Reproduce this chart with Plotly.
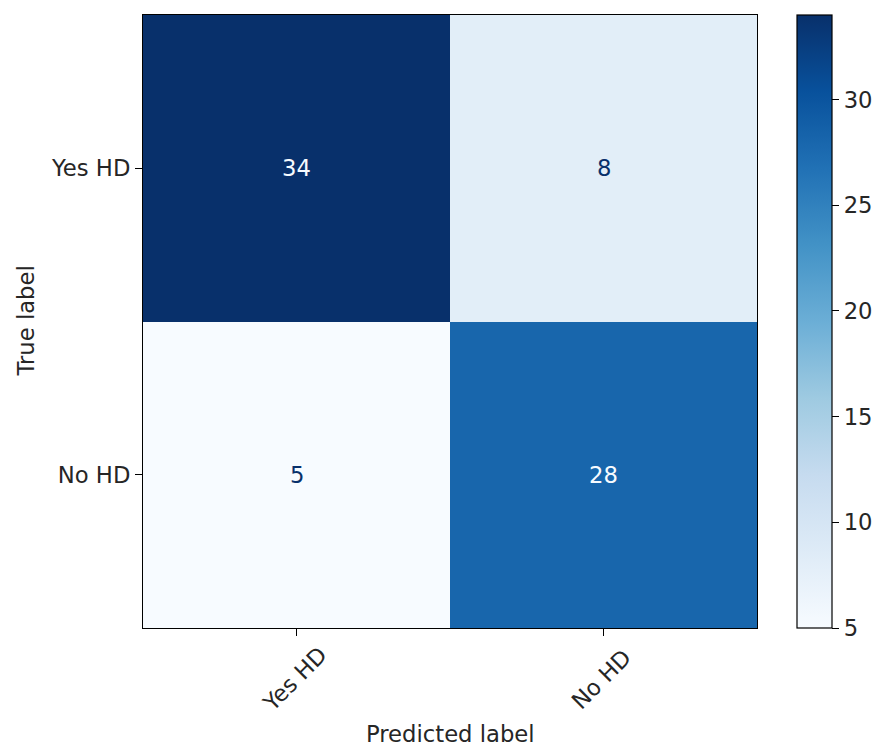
import plotly.graph_objects as go

# Confusion matrix data
labels = ["Yes HD", "No HD"]
counts = [[34, 8],
          [5, 28]]
cbar_ticks = [5, 10, 15, 20, 25, 30]

blues = [
    [0.000, "#f7fbff"], [0.125, "#deebf7"], [0.250, "#c6dbef"],
    [0.375, "#9ecae1"], [0.500, "#6baed6"], [0.625, "#4292c6"],
    [0.750, "#2171b5"], [0.875, "#08519c"], [1.000, "#08306b"],
]

FONT = "DejaVu Sans"
FS = 22.7
TXT = "#262626"

zmin = min(min(r) for r in counts)
zmax = max(max(r) for r in counts)
mid = (zmin + zmax) / 2

fig = go.Figure(go.Heatmap(
    z=counts, x=labels, y=labels,
    colorscale=blues, zmin=zmin, zmax=zmax,
    xgap=0, ygap=0, showscale=True,
    colorbar=dict(
        x=(797 - 143) / 614, xanchor="left", xref="paper",
        y=0.5, yanchor="middle", len=1.0, lenmode="fraction",
        thickness=35, thicknessmode="pixels",
        outlinewidth=1.2, outlinecolor="black",
        tickvals=cbar_ticks, ticks="outside", ticklen=7, tickwidth=1.2,
        tickcolor="black", tickfont=dict(family=FONT, size=FS, color=TXT),
        xpad=0, ypad=0,
    ),
    hoverinfo="skip",
))

# Cell count annotations
for i, row in enumerate(counts):
    for j, v in enumerate(row):
        fig.add_annotation(
            x=labels[j], y=labels[i], text=str(v), showarrow=False,
            font=dict(family=FONT, size=FS,
                      color="#f7fbff" if v > mid else "#08306b"),
        )

# Rotated x tick labels, centred under each tick
for lab in labels:
    fig.add_annotation(
        x=lab, y=-51 / 613, xref="x", yref="paper", text=lab,
        textangle=-45, showarrow=False, xanchor="center", yanchor="middle",
        xshift=-2,
        font=dict(family=FONT, size=FS, color=TXT),
    )

fig.add_annotation(
    x=0.5, y=-106 / 613, xref="paper", yref="paper", text="Predicted label",
    showarrow=False, xanchor="center", yanchor="middle",
    font=dict(family=FONT, size=FS, color=TXT),
)
fig.add_annotation(
    x=-118 / 614, y=0.5, xref="paper", yref="paper", text="True label",
    textangle=-90, showarrow=False, xanchor="center", yanchor="middle",
    font=dict(family=FONT, size=FS, color=TXT),
)

fig.update_xaxes(
    showticklabels=False, ticks="outside", ticklen=7, tickwidth=1.2,
    tickcolor="black", showline=True, linecolor="black", linewidth=1.2,
    mirror=True, showgrid=False, zeroline=False,
)
fig.update_yaxes(
    autorange="reversed", ticks="outside", ticklen=7, tickwidth=1.2,
    tickcolor="black", showline=True, linecolor="black", linewidth=1.2,
    mirror=True, showgrid=False, zeroline=False,
    tickfont=dict(family=FONT, size=FS, color=TXT),
)

fig.update_layout(
    width=876, height=746,
    margin=dict(l=143, r=119, t=15, b=118, autoexpand=False),
    paper_bgcolor="white", plot_bgcolor="white",
    font=dict(family=FONT, size=FS, color=TXT),
)

fig.write_html("out.html")
